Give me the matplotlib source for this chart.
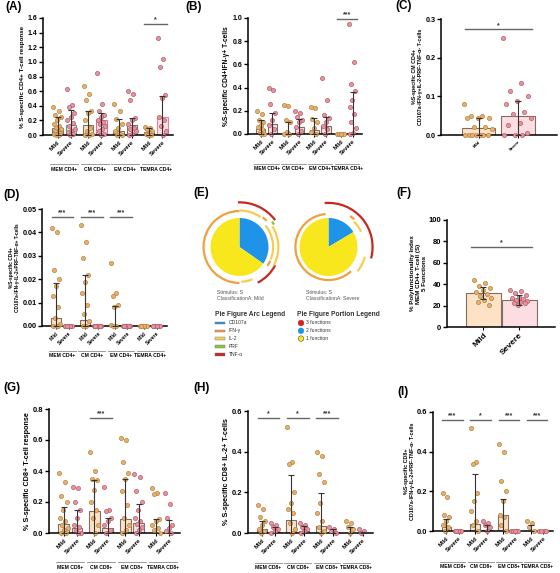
import numpy as np
import matplotlib.pyplot as plt
from matplotlib.patches import Wedge, Arc, Rectangle, Circle

plt.rcParams['font.family'] = ['Liberation Sans', 'DejaVu Sans']
W, H = 560, 573

# ---------------- data ----------------
conds = ['Mild', 'Severe']
groups_cd4 = ['MEM CD4+', 'CM CD4+', 'EM CD4+', 'TEMRA CD4+']
groups_cd8 = ['MEM CD8+', 'CM CD8+', 'EM CD8+', 'TEMRA CD8+']

# (A) S-specific CD4+ response
a_bar = [0.10, 0.13, 0.13, 0.20, 0.05, 0.14, 0.04, 0.24]
a_err = [0.25, 0.34, 0.33, 0.30, 0.22, 0.23, 0.10, 0.54]
a_pts = [
    [0.38, 0.33, 0.27, 0.25, 0.20, 0.15, 0.12, 0.10, 0.08, 0.05, 0.03, 0.02, 0.0, 0.0, 0.01, 0.05],
    [0.63, 0.41, 0.38, 0.30, 0.25, 0.20, 0.17, 0.12, 0.08, 0.06, 0.04, 0.02, 0.0],
    [0.67, 0.56, 0.48, 0.33, 0.30, 0.20, 0.10, 0.05, 0.02, 0.0, 0.0],
    [0.85, 0.42, 0.33, 0.28, 0.24, 0.20, 0.18, 0.15, 0.12, 0.08, 0.05, 0.02, 0.0],
    [0.42, 0.33, 0.22, 0.15, 0.10, 0.05, 0.02, 0.0, 0.0],
    [0.60, 0.56, 0.48, 0.23, 0.20, 0.15, 0.10, 0.08, 0.05, 0.02, 0.0],
    [0.11, 0.10, 0.08, 0.05, 0.03, 0.02, 0.0, 0.0],
    [1.33, 1.04, 0.93, 0.55, 0.50, 0.25, 0.20, 0.12, 0.05, 0.0],
]
a_sig = [None, None, None, '*']

# (B) CD4+ IFN-g+
b_bar = [0.045, 0.085, 0.01, 0.06, 0.035, 0.07, 0.0, 0.01]
b_err = [0.12, 0.18, 0.10, 0.13, 0.14, 0.15, 0.0, 0.36]
b_pts = [
    [0.20, 0.17, 0.12, 0.10, 0.08, 0.06, 0.04, 0.02, 0.0, 0.0],
    [0.40, 0.38, 0.26, 0.18, 0.12, 0.08, 0.04, 0.0],
    [0.25, 0.24, 0.12, 0.10, 0.02, 0.0, 0.0],
    [0.20, 0.18, 0.15, 0.12, 0.10, 0.06, 0.03, 0.0],
    [0.23, 0.22, 0.13, 0.10, 0.05, 0.02, 0.0],
    [0.48, 0.29, 0.16, 0.14, 0.10, 0.07, 0.04, 0.0],
    [0.0, 0.0, 0.0, 0.0, 0.0],
    [0.95, 0.62, 0.43, 0.37, 0.29, 0.23, 0.17, 0.10, 0.05, 0.01, 0.0],
]
b_sig = [None, None, None, '***']

# (C) CM CD4+ polyfunctional subset
c_bar = [0.017, 0.050]
c_err = [0.044, 0.087]
c_pts = [
    [0.08, 0.05, 0.048, 0.045, 0.045, 0.045, 0.02, 0.02, 0.015, 0.0, 0.0, 0.0, 0.0, 0.0, 0.0, 0.0],
    [0.25, 0.135, 0.113, 0.10, 0.088, 0.08, 0.06, 0.055, 0.045, 0.03, 0.025, 0.005, 0.0, 0.0, 0.0],
]

# (D) CD4+ CD107a-IFN-g-IL-2+PRF-TNF-a+
d_bar = [0.0035, 0.0, 0.0025, 0.0, 0.0005, 0.0, 0.0, 0.0]
d_err = [0.0185, 0.0, 0.022, 0.0, 0.0085, 0.0, 0.0, 0.0]
d_pts = [
    [0.042, 0.040, 0.024, 0.020, 0.017, 0.013, 0.008, 0.0035, 0.001, 0.0, 0.0, 0.0],
    [0.0, 0.0, 0.0, 0.0, 0.0, 0.0, 0.0, 0.0],
    [0.043, 0.036, 0.029, 0.022, 0.019, 0.014, 0.009, 0.005, 0.002, 0.0, 0.0],
    [0.0, 0.0, 0.0, 0.0, 0.0, 0.0, 0.0],
    [0.027, 0.014, 0.013, 0.009, 0.008, 0.0005, 0.0, 0.0],
    [0.0, 0.0, 0.0, 0.0, 0.0, 0.0, 0.0],
    [0.0, 0.0, 0.0, 0.0, 0.0, 0.0],
    [0.0, 0.0, 0.0, 0.0, 0.0, 0.0],
]
d_sig = ['***', '***', '***', None]

# (E) SPICE pies
pie_names = ['Mild', 'Severe']
pie_portions = [[0.347, 0.653], [0.164, 0.836]]   # 2 functions, 1 function
mild_arcs = [
    ('IFN-γ', 1.24, 90, 270), ('IL-2', 1.20, 273, 292), ('TNF-α', 1.38, 297, 333),
    ('IL-2', 1.26, 55, 90), ('IFN-γ', 1.30, 44, 52), ('PRF', 1.42, 33, 38),
    ('TNF-α', 1.54, 37, 92), ('IL-2', 1.16, -22, 40), ('IFN-γ', 1.16, -34, -24),
    ('IL-2', 1.34, -28, 32),
]
severe_arcs = [
    ('IFN-γ', 1.14, 95, 313), ('IL-2', 1.24, 25, 45), ('IFN-γ', 1.30, 47, 55),
    ('IL-2', 1.30, -40, -15), ('TNF-α', 1.52, -15, 95),
]
arc_names = ['CD107a', 'IFN-γ', 'IL-2', 'PRF', 'TNF-α']
arc_colors = ['#2f8fd8', '#f0a040', '#f5cd50', '#8cc43c', '#c8281e']
portion_names = ['3 functions', '2 functions', '1 function']
portion_colors = ['#d42020', '#1e93e8', '#f7e71c']

# (F) polyfunctionality index
f_bar = [32, 25]
f_lo = [26, 21]
f_hi = [37, 30]
f_pts = [
    [44, 41, 38, 36, 35, 33, 31, 29, 27, 25, 23, 21],
    [35, 34, 32, 30, 28, 27, 26, 25, 24, 23, 22, 22, 21],
]

# (G) CD8+ response
g_bar = [0.057, 0.035, 0.145, 0.03, 0.09, 0.065, 0.0, 0.0]
g_err = [0.165, 0.15, 0.34, 0.10, 0.35, 0.185, 0.09, 0.085]
g_pts = [
    [0.39, 0.33, 0.24, 0.20, 0.15, 0.10, 0.08, 0.05, 0.03, 0.02, 0.0, 0.0],
    [0.30, 0.29, 0.20, 0.15, 0.10, 0.05, 0.04, 0.02, 0.0, 0.0],
    [0.52, 0.40, 0.35, 0.34, 0.28, 0.20, 0.15, 0.10, 0.05, 0.0],
    [0.30, 0.15, 0.14, 0.10, 0.08, 0.05, 0.02, 0.0],
    [0.61, 0.60, 0.46, 0.39, 0.35, 0.27, 0.18, 0.10, 0.05, 0.02, 0.0],
    [0.38, 0.36, 0.27, 0.20, 0.15, 0.10, 0.08, 0.06, 0.04, 0.02, 0.0],
    [0.29, 0.26, 0.25, 0.09, 0.08, 0.05, 0.03, 0.02, 0.0],
    [0.26, 0.19, 0.10, 0.05, 0.03, 0.01, 0.0],
]
g_sig = [None, '***', None, None]

# (H) CD8+ IL-2+
h_bar = [0.02, 0.005, 0.065, 0.01, 0.035, 0.005, 0.0, 0.0]
h_err = [0.06, 0.03, 0.285, 0.035, 0.195, 0.02, 0.03, 0.005]
h_pts = [
    [0.14, 0.12, 0.08, 0.06, 0.04, 0.02, 0.01, 0.0],
    [0.05, 0.04, 0.03, 0.02, 0.01, 0.0],
    [0.52, 0.35, 0.34, 0.20, 0.15, 0.12, 0.10, 0.05, 0.02, 0.0],
    [0.05, 0.04, 0.03, 0.02, 0.01, 0.0],
    [0.40, 0.38, 0.29, 0.25, 0.15, 0.10, 0.06, 0.03, 0.01, 0.0],
    [0.03, 0.02, 0.01, 0.0],
    [0.06, 0.05, 0.03, 0.02, 0.0],
    [0.02, 0.01, 0.0],
]
h_sig = ['*', '*', '***', None]

# (I) CD8+ CD107a-IFN-g-IL-2+PRF-TNF-a-
i_bar = [0.02, 0.0, 0.035, 0.005, 0.08, 0.0, 0.0, 0.0]
i_err = [0.06, 0.0, 0.285, 0.03, 0.16, 0.0, 0.03, 0.0]
i_pts = [
    [0.19, 0.17, 0.08, 0.07, 0.05, 0.03, 0.02, 0.0],
    [0.0, 0.0, 0.0, 0.0, 0.0, 0.0],
    [0.52, 0.35, 0.34, 0.19, 0.15, 0.10, 0.05, 0.03, 0.0],
    [0.05, 0.04, 0.03, 0.02, 0.0],
    [0.44, 0.40, 0.25, 0.20, 0.15, 0.08, 0.07, 0.03, 0.0],
    [0.0, 0.0, 0.0, 0.0, 0.0],
    [0.05, 0.04, 0.02, 0.0],
    [0.0, 0.0, 0.0, 0.0],
]
i_sig = ['***', '*', '***', '***']

# ---------------- style ----------------
MILD_BAR, SEV_BAR = '#fde2c6', '#fcdde1'
MILD_PT, SEV_PT = '#e6b070', '#e6959f'
MILD_PT_E, SEV_PT_E = '#b8823f', '#b55c6a'
EDGE = '#7d6e66'
POS = [0, 1, 2.3, 3.3, 4.6, 5.6, 6.9, 7.9]

fig = plt.figure(figsize=(5.6, 5.73), dpi=100)


def px_axes(x0, y0, x1, y1):
    return fig.add_axes([x0 / W, 1 - y1 / H, (x1 - x0) / W, (y1 - y0) / H])


def spread(n, width):
    return np.array([((i * 0.618) % 1 - 0.5) * 2 * width for i in range(n)])


def bar_panel(ax, bars, lo, hi, pts, pos, xlim, ylim, yticks, fmt, ylabel,
              ylab_size=4.5, bar_w=0.8, jit=0.32, edges=None, xt_size=4.2,
              yt_size=5.0):
    for i in range(len(bars)):
        mild = i % 2 == 0
        ec = edges[i] if edges else EDGE
        ax.bar(pos[i], bars[i], width=bar_w, color=MILD_BAR if mild else SEV_BAR,
               edgecolor=ec, linewidth=0.8, zorder=2)
        vals = sorted(pts[i], reverse=True)
        ax.scatter(pos[i] + spread(len(vals), jit), vals, s=9,
                   c=MILD_PT if mild else SEV_PT,
                   edgecolors=MILD_PT_E if mild else SEV_PT_E,
                   linewidths=0.5, zorder=3, clip_on=False)
        if hi[i] > bars[i]:
            ax.errorbar(pos[i], bars[i], yerr=[[bars[i] - lo[i]], [hi[i] - bars[i]]],
                        color='#333333', lw=0.8, capsize=2.5, capthick=0.8, zorder=4)
    ax.set_xlim(xlim)
    ax.set_ylim(ylim)
    ax.spines[['top', 'right']].set_visible(False)
    ax.spines[['left', 'bottom']].set_linewidth(1.1)
    ax.set_yticks(yticks)
    ax.set_yticklabels([fmt.format(t) for t in yticks], fontsize=yt_size, fontweight='bold')
    ax.tick_params(axis='y', length=3, width=1, pad=1)
    ax.set_xticks(pos)
    ax.set_xticklabels(conds * (len(pos) // 2), rotation=45, ha='right',
                       rotation_mode='anchor', fontsize=xt_size, fontweight='bold')
    ax.tick_params(axis='x', length=2.5, width=0.8, pad=1)
    ax.set_ylabel(ylabel, fontsize=ylab_size, fontweight='bold', labelpad=1.5)


def group_labels(ax, names, y_line):
    tr = ax.get_xaxis_transform()
    for k, name in enumerate(names):
        x0, x1 = POS[2 * k] - 0.55, POS[2 * k + 1] + 0.55
        ax.plot([x0, x1], [y_line, y_line], transform=tr, color='#8a8a8a',
                lw=0.6, clip_on=False)
        ax.text((x0 + x1) / 2, y_line - 0.02, name, transform=tr, ha='center',
                va='top', fontsize=3.6, fontweight='bold')


def sig_marks(ax, sigs, y, pairs=None):
    pairs = pairs or [(POS[2 * k], POS[2 * k + 1]) for k in range(len(sigs))]
    ymax = ax.get_ylim()[1]
    for s, (a, b) in zip(sigs, pairs):
        if s:
            ax.plot([a - 0.35, b + 0.35], [y, y], color='#666666', lw=1, zorder=5)
            ax.text((a + b) / 2, y + ymax * 0.005, s, ha='center', va='bottom',
                    fontsize=5, fontweight='bold', color='#333333')


def zeros(n):
    return [0] * n


# (A)
ax = px_axes(43, 18, 173, 135)
a_edges = [EDGE, '#3cae8c', EDGE, '#d96aa8', EDGE, EDGE, EDGE, '#d98a9a']
bar_panel(ax, a_bar, zeros(8), a_err, a_pts, POS, (-1.1, 8.7), (0, 1.6),
          np.arange(0, 1.61, 0.2), '{:.1f}', '% S-specific CD4+ T-cell response',
          ylab_size=4.5, edges=a_edges)
group_labels(ax, groups_cd4, -0.25)
sig_marks(ax, a_sig, 1.52)

# (B)
ax = px_axes(248, 18, 362, 134)
bar_panel(ax, b_bar, zeros(8), b_err, b_pts, POS, (-1.1, 8.7), (0, 1.0),
          np.arange(0, 1.01, 0.2), '{:.1f}', '%S-specific CD4+IFN-γ+ T-cells',
          ylab_size=4.8)
group_labels(ax, groups_cd4, -0.26)
sig_marks(ax, b_sig, 0.99)

# (C)
ax = px_axes(441, 19, 557, 135)
bar_panel(ax, c_bar, zeros(2), c_err, c_pts, [0, 1], (-0.97, 2.0), (0, 0.3),
          [0, 0.1, 0.2, 0.3], '{:.1f}',
          '%S-specific CM CD4+\nCD107a-IFN-γ+IL-2-PRF-TNF-α- T-cells',
          ylab_size=3.8, bar_w=0.85, jit=0.38, xt_size=3.0, yt_size=5.2)
sig_marks(ax, ['*'], 0.273, pairs=[(0, 1)])

# (D)
ax = px_axes(42, 209, 167, 326)
bar_panel(ax, d_bar, zeros(8), d_err, d_pts, POS, (-1.1, 8.7), (0, 0.05),
          np.arange(0, 0.051, 0.01), '{:.2f}',
          '%S-specific CD4+\nCD107a-IFN-γ-IL-2+PRF-TNF-α+ T-cells',
          ylab_size=3.4, xt_size=3.5, yt_size=5.2)
group_labels(ax, groups_cd4, -0.21)
sig_marks(ax, d_sig, 0.0465)

# (E)
ax = px_axes(180, 190, 380, 375)
ax.set_xlim(180, 380)
ax.set_ylim(H - 375, H - 190)
ax.set_aspect('equal')
ax.axis('off')
centers = [(239.5, H - 247), (328.5, H - 247)]
R = 29
for (cx, cy), portions, arcs, name in zip(centers, pie_portions,
                                          [mild_arcs, severe_arcs], pie_names):
    start = 90
    for frac, col in zip(portions, portion_colors[1:]):
        end = start - frac * 360
        ax.add_patch(Wedge((cx, cy), R, end, start, facecolor=col, edgecolor='none'))
        start = end
    for fn, rf, t1, t2 in arcs:
        ax.add_patch(Arc((cx, cy), 2 * R * rf, 2 * R * rf, theta1=t1, theta2=t2,
                         color=arc_colors[arc_names.index(fn)], lw=1.6))
    ax.text(cx - 22.5, H - 290, 'Stimulus: S\nClassificationA: ' + name,
            fontsize=3.7, color='#555555', va='top', ha='left', linespacing=1.3)

ax.text(215, H - 314, 'Pie Figure Arc Legend', fontsize=4.8, fontweight='bold',
        color='#333333', va='center')
for k, (nm, col) in enumerate(zip(arc_names, arc_colors)):
    y = H - (323 + 7.8 * k)
    ax.add_patch(Rectangle((215, y - 1.3), 10, 2.6, facecolor=col, edgecolor='#777777', lw=0.3))
    ax.text(228.5, y, nm, fontsize=3.6, color='#333333', va='center')
ax.text(297, H - 314, 'Pie Figure Portion Legend', fontsize=4.8, fontweight='bold',
        color='#333333', va='center')
for k, (nm, col) in enumerate(zip(portion_names, portion_colors)):
    y = H - (323 + 7.8 * k)
    ax.add_patch(Circle((301, y), 2.8, facecolor=col,
                        edgecolor='#555555' if k == 2 else col, lw=0.4))
    ax.text(306, y, nm, fontsize=3.6, color='#333333', va='center')

# (F)
ax = px_axes(447, 220, 555, 327)
bar_panel(ax, f_bar, f_lo, f_hi, f_pts, [0, 1], (-1.01, 1.99), (0, 100),
          [0, 20, 40, 60, 80, 100], '{:.0f}',
          '% Polyfunctionality Index\nMEM CD4+ T-cell (S)\n5 Functions',
          ylab_size=4.5, bar_w=0.97, jit=0.25, xt_size=6.0, yt_size=5.5)
sig_marks(ax, ['*'], 75, pairs=[(0, 1)])

# (G)
ax = px_axes(49, 409, 180, 533)
bar_panel(ax, g_bar, zeros(8), g_err, g_pts, POS, (-1.1, 8.7), (0, 0.8),
          np.arange(0, 0.81, 0.2), '{:.1f}', '% S-specific CD8+ T-cell response',
          ylab_size=5.2, yt_size=5.4)
group_labels(ax, groups_cd8, -0.235)
sig_marks(ax, g_sig, 0.74)

# (H)
ax = px_axes(248, 411, 373, 533)
bar_panel(ax, h_bar, zeros(8), h_err, h_pts, POS, (-1.1, 8.7), (0, 0.6),
          [0, 0.2, 0.4, 0.6], '{:.1f}', '% S-specific CD8+ IL-2+ T-cells',
          ylab_size=5.2, yt_size=5.4)
group_labels(ax, groups_cd8, -0.245)
sig_marks(ax, h_sig, 0.565)

# (I)
ax = px_axes(433, 412, 553, 531)
bar_panel(ax, i_bar, zeros(8), i_err, i_pts, POS, (-1.1, 8.7), (0, 0.6),
          [0, 0.2, 0.4, 0.6], '{:.1f}',
          '%S-specific CD8+\nCD107a-IFN-γ-IL-2+PRF-TNF-α- T-cells',
          ylab_size=3.9, yt_size=5.4)
group_labels(ax, groups_cd8, -0.26)
sig_marks(ax, i_sig, 0.56)

# panel letters
letters = [('(A)', 5, 7), ('(B)', 185, 7), ('(C)', 395, 6), ('(D)', 3, 195),
           ('(E)', 193, 193), ('(F)', 396, 193), ('(G)', 3, 388),
           ('(H)', 193, 388), ('(I)', 397, 392)]
for txt, x, y in letters:
    fig.text(x / W, 1 - y / H, txt, fontsize=8.5, fontweight='bold', va='center')

fig.savefig('out.png', dpi=100)
